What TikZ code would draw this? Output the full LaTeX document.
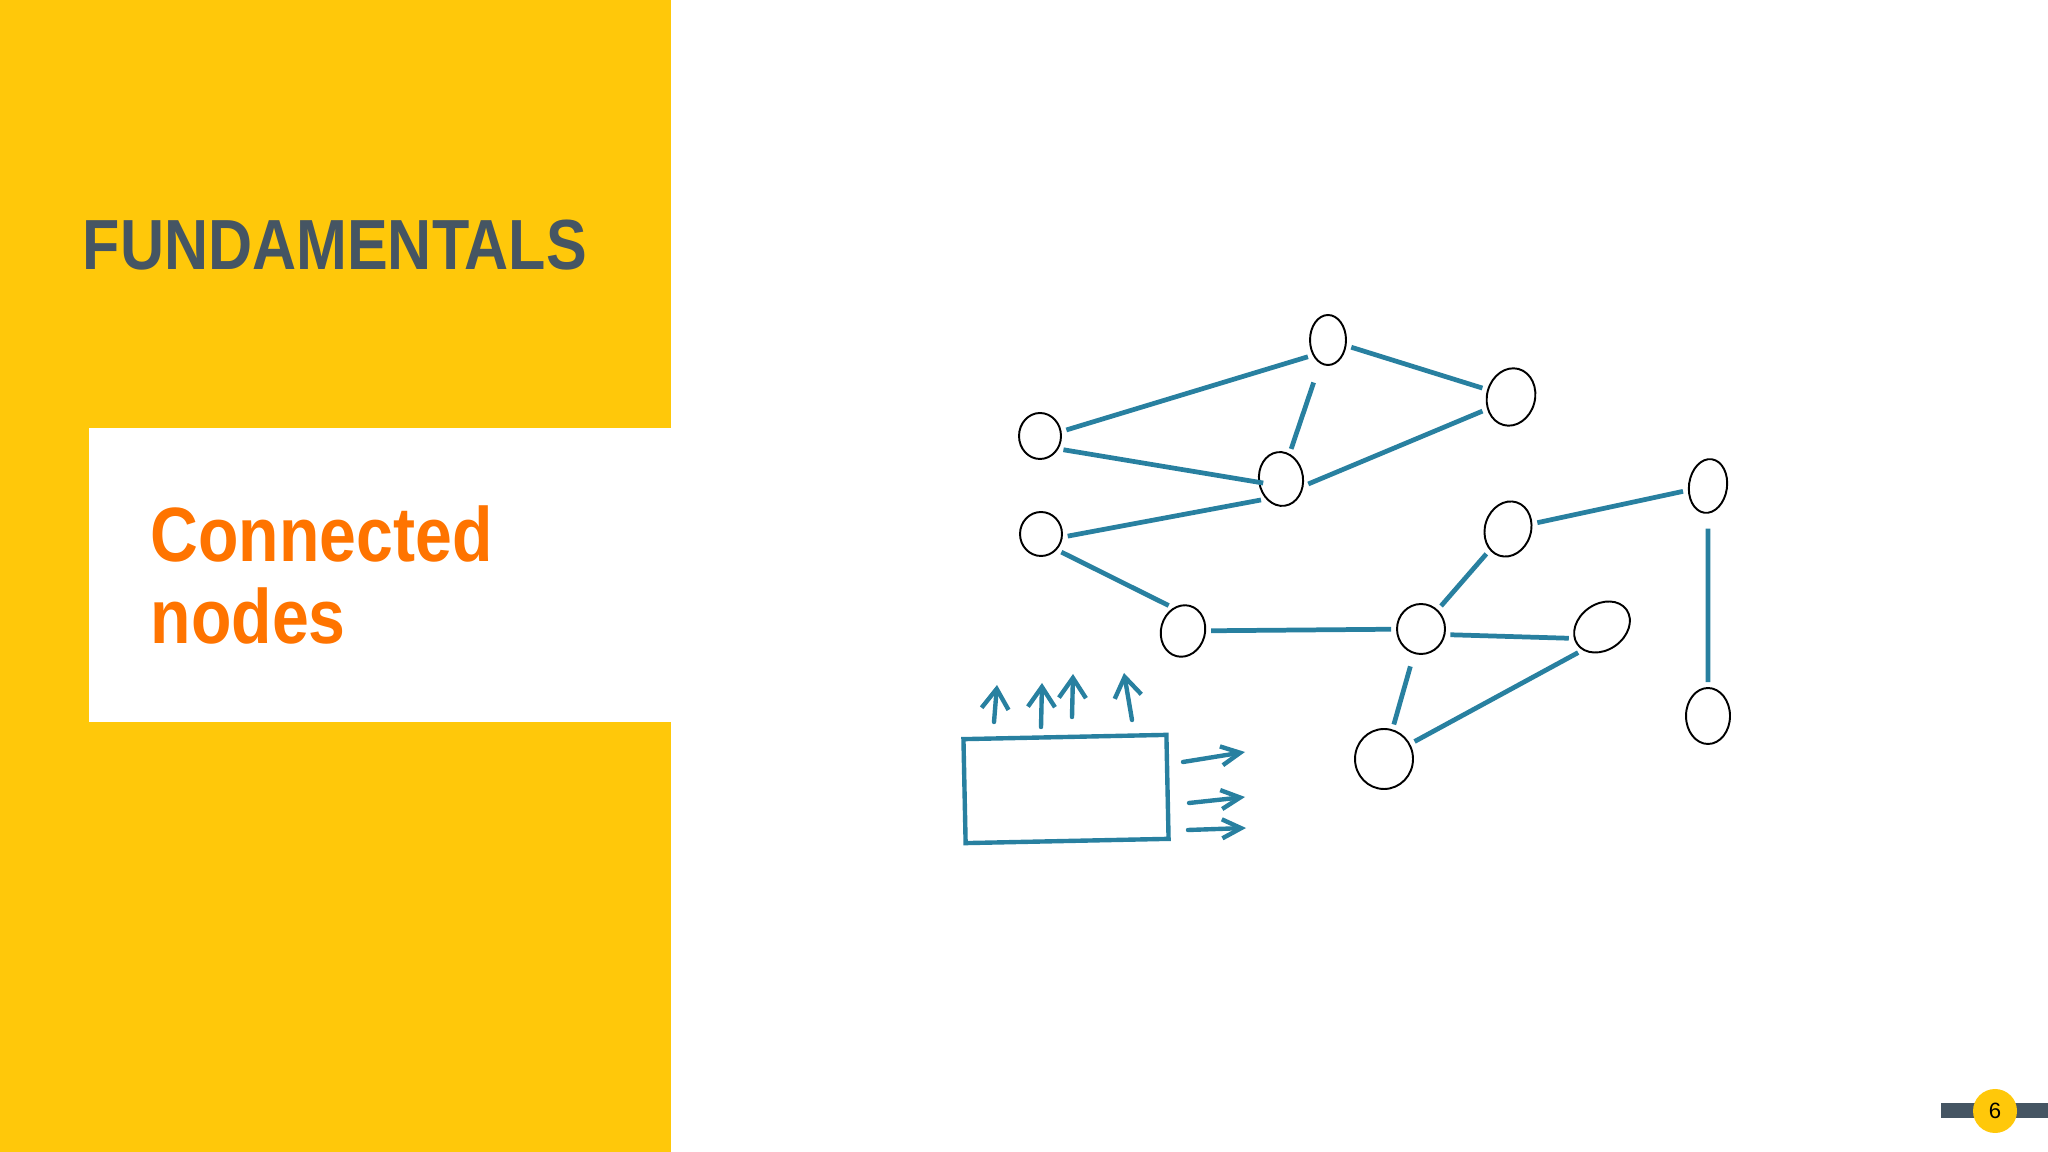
\documentclass[tikz,border=0pt]{standalone}
\usepackage{fontspec}
\setmainfont{Liberation Sans}
\usetikzlibrary{positioning,arrows.meta,shapes.geometric}
\definecolor{slideyellow}{RGB}{255,200,10}
\definecolor{slidegray}{RGB}{69,85,99}
\definecolor{slideorange}{RGB}{255,116,0}
\definecolor{penblue}{RGB}{40,128,160}

\begin{document}
\begin{tikzpicture}[x=0.1mm,y=-0.1mm,>={Straight Barb[length=2mm,width=2.7mm]}]
\tikzstyle{nd}=[ellipse,draw=black,line width=0.55pt,inner sep=0pt]
\tikzstyle{link}=[draw=penblue,line width=1.35pt,shorten <=0.5mm,shorten >=0.5mm]
\tikzstyle{pen}=[draw=penblue,line width=1.25pt,line cap=round]
\tikzstyle{rt}=[pen,-{Straight Barb[length=1.9mm,width=1.9mm]}]

% Slide background
\useasboundingbox (0,0) rectangle (2048,1152);
\fill[white] (0,0) rectangle (2048,1152);
\fill[slideyellow] (0,0) rectangle (671,1152);
\fill[white] (89,428) rectangle (671,722);

% Titles
\node[anchor=base west,inner sep=0pt,text=slidegray,font=\bfseries\fontsize{20.2}{24}\selectfont] (title) at (82,270) {\scalebox{0.86}[1]{FUNDAMENTALS}};
\node[anchor=base west,inner sep=0pt,text=slideorange,font=\bfseries\fontsize{21.9}{26}\selectfont] (sub1) at (150,562) {\scalebox{0.86}[1]{Connected}};
\node[anchor=base west,inner sep=0pt,text=slideorange,font=\bfseries\fontsize{21.9}{26}\selectfont] (sub2) at (150,644) {\scalebox{0.86}[1]{nodes}};

% Page number
\fill[slidegray] (1941,1103) rectangle (2048,1118);
\node[circle,fill=slideyellow,minimum size=4.4mm,inner sep=0pt,font=\fontsize{6.3}{7}\selectfont] (page) at (1995,1111) {6};

% Nodes
\node[nd,minimum width=3.6mm,minimum height=5mm] (a) at (1328,340) {};
\node[nd,minimum width=4.8mm,minimum height=5.8mm,rotate=-15] (b) at (1511,397) {};
\node[nd,minimum width=4.2mm,minimum height=4.6mm] (c) at (1040,436) {};
\node[nd,minimum width=4.4mm,minimum height=5.4mm,rotate=8] (d) at (1281,479) {};
\node[nd,minimum width=4.2mm,minimum height=4.4mm] (e) at (1041,534) {};
\node[nd,minimum width=4.4mm,minimum height=5.2mm,rotate=-15] (f) at (1183,631) {};
\node[nd,minimum width=4.6mm,minimum height=5.6mm,rotate=-18] (g) at (1508,529) {};
\node[nd,minimum width=3.8mm,minimum height=5.4mm,rotate=-8] (h) at (1708,486) {};
\node[nd,minimum width=4.8mm,minimum height=5mm] (i) at (1421,629) {};
\node[nd,minimum width=6mm,minimum height=4.6mm,rotate=35] (j) at (1602,627) {};
\node[nd,minimum width=5.8mm,minimum height=6mm] (k) at (1384,759) {};
\node[nd,minimum width=4.4mm,minimum height=5.6mm] (l) at (1708,716) {};

% Links
\draw[link] (c.12) -- (a.225);
\draw[link] (a) -- (b);
\draw[link,shorten <=2mm] (a) -- (d);
\draw[link,shorten >=-0.5mm] (c.-35) -- (d.180);
\draw[link] (d.-25) -- (b.222);
\draw[link] (e.-8) -- (d.225);
\draw[link] (e.-45) -- (f.128);
\draw[link] (f) -- (i);
\draw[link] (i) -- (g);
\draw[link] (g) -- (h);
\draw[link,shorten <=1.5mm] (h) -- (l);
\draw[link] (i.-13) -- (j.167);
\draw[link,shorten <=1.3mm] (i) -- (k);
\draw[link] (k.30) -- (j.195);

% Box with outputs
\node[draw=penblue,line width=1.25pt,minimum width=20.3mm,minimum height=10.4mm,rotate=1.2] (box) at (1066,789) {};
\coordinate (u1s) at (994,722);  \coordinate (u1e) at (997,685);
\coordinate (u2s) at (1041,727); \coordinate (u2e) at (1042,683);
\coordinate (u3s) at (1072,717); \coordinate (u3e) at (1073,674);
\coordinate (u4s) at (1132,720); \coordinate (u4e) at (1124,673);
\coordinate (r1s) at (1183,762); \coordinate (r1e) at (1245,752);
\coordinate (r2s) at (1189,803); \coordinate (r2e) at (1245,797);
\coordinate (r3s) at (1188,830); \coordinate (r3e) at (1246,828);
\draw[pen,->] (u1s) -- (u1e);
\draw[pen,->] (u2s) -- (u2e);
\draw[pen,->] (u3s) -- (u3e);
\draw[pen,->] (u4s) -- (u4e);
\draw[rt] (r1s) -- (r1e);
\draw[rt] (r2s) -- (r2e);
\draw[rt] (r3s) -- (r3e);
\end{tikzpicture}
\end{document}
